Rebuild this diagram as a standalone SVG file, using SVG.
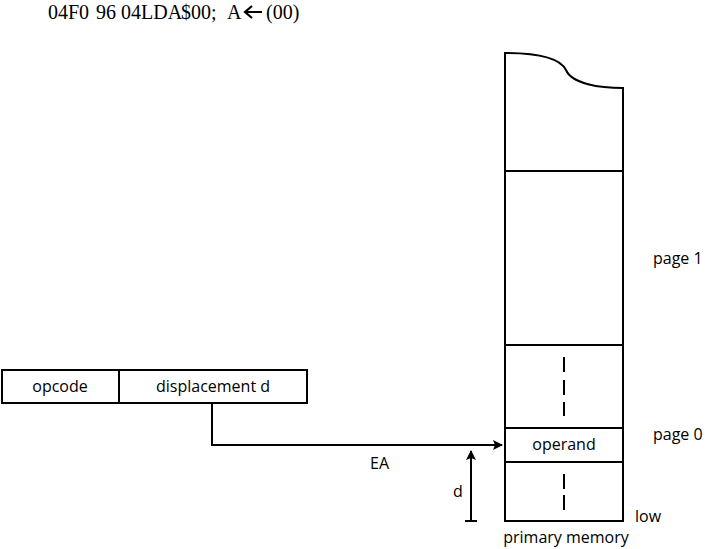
<svg xmlns="http://www.w3.org/2000/svg" width="705" height="549" viewBox="0 0 705 549">
<style>
.l{fill:none;stroke:#000;stroke-width:2}
.t{font-family:"Open Sans","Liberation Sans",sans-serif;font-size:16px;fill:#000}
.s{font-family:"Liberation Serif",serif;font-size:20px;fill:#000}
</style>
<defs><marker id="a" markerWidth="10" markerHeight="10" refX="9" refY="5" orient="auto" markerUnits="userSpaceOnUse"><path d="M0,0 L10,5 L0,10 L2,5 Z" fill="#000"/></marker></defs>
<rect width="705" height="549" fill="#fff"/>
<g id="header">
<text class="s" x="48" y="19">04F0</text>
<text class="s" x="96" y="19" font-size="19">96 04</text>
<text class="s" x="141" y="19" font-size="14">LDA</text>
<text class="s" x="181" y="19" font-size="16" font-family="Liberation Mono">$00;</text>
<text class="s" x="227" y="19">A</text>
<path d="M262,12 H246 M252,6 L245,12 L252,18" fill="none" stroke="#000" stroke-width="2.2"/>
<text class="s" x="266" y="19">(00)</text>
</g>
<g id="memory">
<path class="l" d="M505,521 V53 C540,53 560,58 566,70 C572,84 600,88 623,88 V521 Z"/>
<line class="l" x1="505" y1="171" x2="623" y2="171"/>
<line class="l" x1="505" y1="345" x2="623" y2="345"/>
<line class="l" x1="505" y1="428" x2="623" y2="428"/>
<line class="l" x1="505" y1="462" x2="623" y2="462"/>
<path class="l" d="M564,357 V372 M564,380 V395 M564,402 V416 M564,474 V489 M564,495 V510"/>
<text class="t" x="564" y="450" text-anchor="middle">operand</text>
<text class="t" x="653" y="264">page 1</text>
<text class="t" x="653" y="440">page 0</text>
<text class="t" x="635" y="522">low</text>
<text class="t" x="566" y="543" text-anchor="middle">primary memory</text>
</g>
<g id="instruction">
<rect class="l" x="2" y="370" width="305" height="33"/>
<line class="l" x1="119" y1="370" x2="119" y2="403"/>
<text class="t" x="60" y="392" text-anchor="middle">opcode</text>
<text class="t" x="213" y="392" text-anchor="middle">displacement d</text>
</g>
<g id="connectors">
<path class="l" d="M212,403 V445 H502" marker-end="url(#a)"/>
<text class="t" x="370" y="469">EA</text>
<line class="l" x1="471" y1="521" x2="471" y2="451" marker-end="url(#a)"/>
<line class="l" x1="465" y1="521" x2="477" y2="521"/>
<text class="t" x="453" y="497">d</text>
</g>
</svg>
